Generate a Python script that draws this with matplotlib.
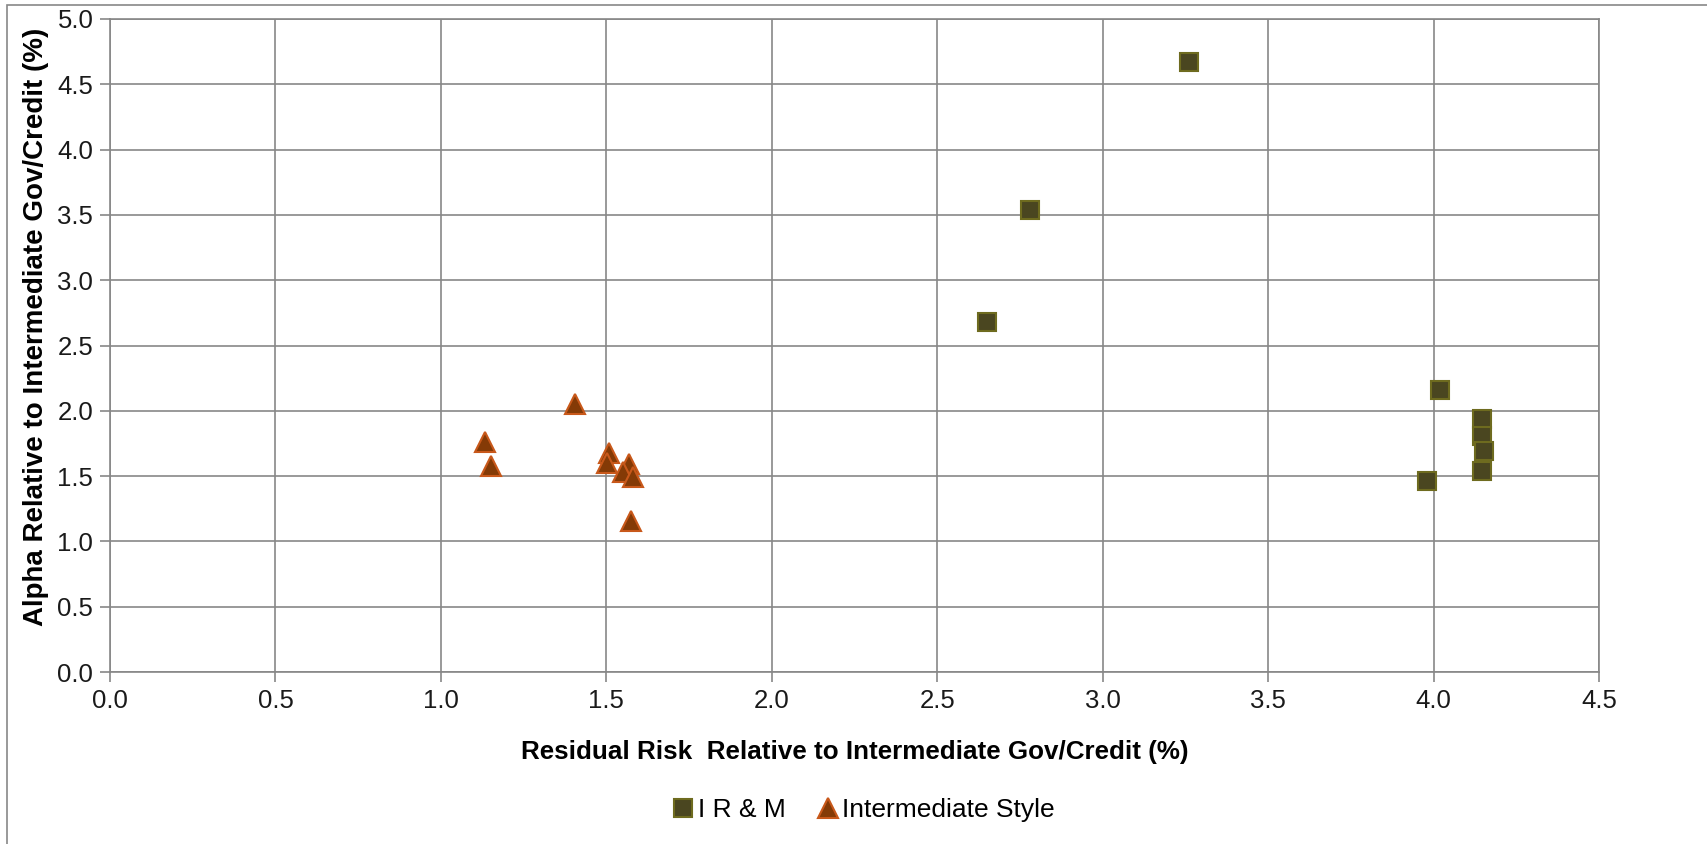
import matplotlib.pyplot as plt
from matplotlib.patches import Rectangle

plt.rcParams['font.family'] = ['Liberation Sans', 'DejaVu Sans']

# I R & M points
irm_x = [3.26, 2.78, 2.65, 4.02, 4.145, 4.145, 4.152, 4.145, 3.98]
irm_y = [4.67, 3.54, 2.68, 2.16, 1.94, 1.81, 1.69, 1.54, 1.46]

# Intermediate Style points
style_x = [1.405, 1.133, 1.151, 1.508, 1.501, 1.568, 1.551, 1.581, 1.574]
style_y = [2.05, 1.76, 1.58, 1.68, 1.60, 1.59, 1.53, 1.49, 1.16]

xticks = [0.0, 0.5, 1.0, 1.5, 2.0, 2.5, 3.0, 3.5, 4.0, 4.5]
yticks = [0.0, 0.5, 1.0, 1.5, 2.0, 2.5, 3.0, 3.5, 4.0, 4.5, 5.0]

fig = plt.figure(figsize=(17.07, 8.44), dpi=100)
ax = fig.add_axes([110/1707, 1 - 672/844, (1599 - 110)/1707, (672 - 19)/844])

grey = '#878787'
ax.grid(True, color=grey, linewidth=1.2, zorder=0)
ax.set_axisbelow(True)
for s in ax.spines.values():
    s.set_color(grey)
    s.set_linewidth(1.2)

ax.plot(irm_x, irm_y, linestyle='none', marker='s', markersize=13,
        markerfacecolor='#4A4620', markeredgecolor='#6E6B1F', markeredgewidth=1.5,
        label='I R & M', zorder=3, clip_on=False)
ax.plot(style_x, style_y, linestyle='none', marker='^', markersize=15,
        markerfacecolor='#843A06', markeredgecolor='#C8581A', markeredgewidth=1.5,
        label='Intermediate Style', zorder=3, clip_on=False)

ax.set_xlim(0, 4.5)
ax.set_ylim(0, 5.0)
ax.set_xticks(xticks)
ax.set_yticks(yticks)
ax.set_xticklabels([f'{v:.1f}' for v in xticks])
ax.set_yticklabels([f'{v:.1f}' for v in yticks])
ax.tick_params(axis='both', colors=grey, labelcolor='#1a1a1a', labelsize=18.5,
               length=7, width=1.2)
ax.tick_params(axis='x', pad=5)
ax.tick_params(axis='y', pad=5)

ax.set_xlabel('Residual Risk  Relative to Intermediate Gov/Credit (%)',
              fontsize=18.75, fontweight='bold')
ax.set_ylabel('Alpha Relative to Intermediate Gov/Credit (%)',
              fontsize=20, fontweight='bold')
ax.xaxis.set_label_coords(0.5, -0.104)
ax.yaxis.set_label_coords(-0.041, 0.528)

fig.legend(loc='center', bbox_to_anchor=(862/1707, 1 - 810/844), ncol=2,
           frameon=False, fontsize=19, handletextpad=0.0, columnspacing=1.05,
           handlelength=1.1)

# outer chart border
fig.patches.append(Rectangle((7/1707, -0.2), 1.5, 0.2 + 1 - 5/844,
                             transform=fig.transFigure, fill=False,
                             edgecolor=grey, linewidth=1.2))

fig.savefig('out.png', dpi=100)
